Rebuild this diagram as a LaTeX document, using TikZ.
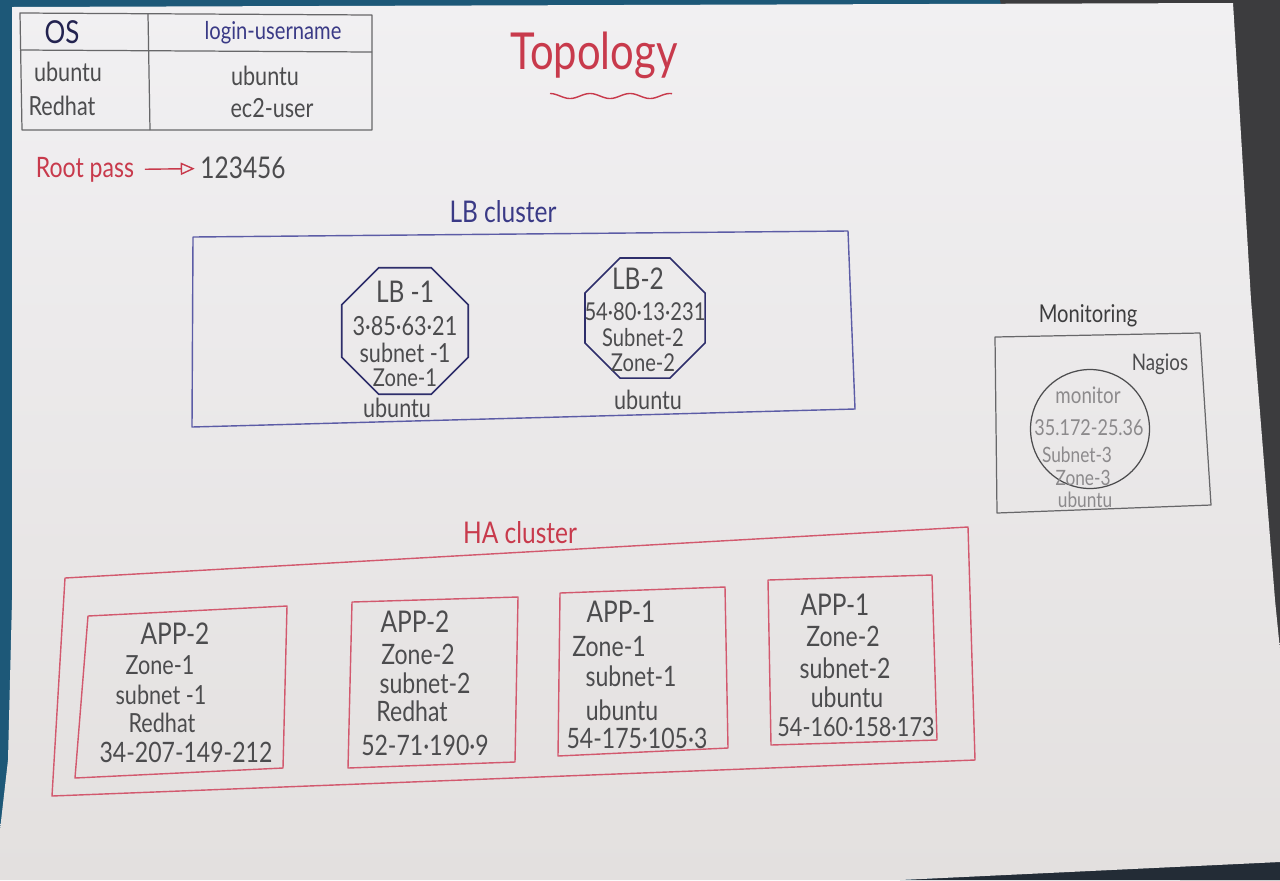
\documentclass[tikz,border=0pt]{standalone}
\usepackage{fontspec}
\setmainfont{Lato}[FakeStretch=0.82]
\usetikzlibrary{shapes.geometric,arrows.meta}

% inks and surfaces
\definecolor{deskblue}{HTML}{1D5878}
\definecolor{deskgray}{HTML}{3C3C3E}
\definecolor{desknavy}{HTML}{232C36}
\definecolor{papertop}{HTML}{F1F0F2}
\definecolor{paperbot}{HTML}{E3E0DF}
\definecolor{inkred}{HTML}{C83A4C}
\definecolor{boxred}{HTML}{D2596E}
\definecolor{inkblue}{HTML}{3A3A86}
\definecolor{lbline}{HTML}{5C5CA6}
\definecolor{pencil}{HTML}{4C4C4E}
\definecolor{lightpencil}{HTML}{8C8A8C}

\newcommand\fsz[1]{\fontsize{#1}{#1}\selectfont}

\begin{document}
\begin{tikzpicture}[x=0.02cm,y=-0.02cm,
  txt/.style={inner sep=0pt,anchor=center},
  pentxt/.style={txt,text=pencil,font=\fsz{14}},
  smalltxt/.style={txt,text=pencil,font=\fsz{12}},
  monitortxt/.style={txt,text=lightpencil,font=\fsz{11}},
  redtxt/.style={txt,text=inkred},
  bluetxt/.style={txt,text=inkblue},
  pencilline/.style={draw=pencil!85,line width=0.7pt,line join=round},
  lbline/.style={draw=lbline,line width=0.8pt,line join=round},
  redline/.style={draw=boxred,line width=0.8pt,line join=round},
  octa/.style={regular polygon,regular polygon sides=8,inner sep=0pt,
               draw=inkblue!80!black,line width=0.9pt}]

\useasboundingbox (0,0) rectangle (1280,880);

% desk around the sheet
\fill[deskblue] (0,0) rectangle (1280,880);
\fill[deskgray] (1000,0) -- (1280,0) -- (1280,880) -- (1180,880) -- cycle;
\fill[desknavy] (900,880) -- (1280,860) -- (1280,880) -- cycle;

% sheet of paper
\shade[top color=papertop,bottom color=paperbot]
  (12,7) -- (1233,3) -- (1251,300) -- (1275,600) -- (1280,650)
  -- (1280,862) -- (900,880) -- (0,880) -- (0,830) -- (8,760)
  -- (12,600) -- cycle;

% login table
\draw[pencilline] (20,13) -- (372,15) -- (372,130) -- (22,130) -- cycle;
\draw[pencilline] (20,50) -- (372,52);
\draw[pencilline] (148,14) -- (150,130);
\node[bluetxt,text=inkblue!60!black,font=\fsz{18}] (osh) at (62,32) {OS};
\node[bluetxt,font=\fsz{14}] (loginh) at (273,33) {login-username};
\node[pentxt,font=\fsz{15}] (os1) at (68,72) {ubuntu};
\node[pentxt,font=\fsz{15}] (user1) at (265,76) {ubuntu};
\node[pentxt,font=\fsz{15}] (os2) at (62,106) {Redhat};
\node[pentxt,font=\fsz{15}] (user2) at (272,108) {ec2-user};

% root password
\node[redtxt,font=\fsz{16}] (root) at (85,170) {Root pass};
\node[pentxt,font=\fsz{17}] (pw) at (243,168) {123456};
\draw[inkred,line width=0.8pt,shorten <=6pt,shorten >=3pt,
      -{Triangle[open,length=8pt,width=7pt]}] (root) -- (pw);

% title
\node[redtxt,font=\fsz{29}] (title) at (594,55) {Topology};
\draw[inkred,line width=0.8pt]
  plot[domain=550:672,samples=80,smooth] (\x,{96+2.5*sin(9*\x)});

% load balancer cluster
\node[bluetxt,font=\fsz{17}] (lbtitle) at (503,212) {LB cluster};
\draw[lbline] (193,237) -- (848,231) -- (855,409) -- (192,427) -- cycle;

\node[octa,minimum size=2.74cm] (lb1) at (405,331) {};
\node[pentxt] (lb1name) at (405,292) {\fsz{17}LB -1};
\node[pentxt,font=\fsz{15}] (lb1ip) at (405,326) {3·85·63·21};
\node[pentxt,font=\fsz{15}] (lb1net) at (405,353) {subnet -1};
\node[pentxt,font=\fsz{14}] (lb1zone) at (405,378) {Zone-1};
\node[pentxt,font=\fsz{15}] (lb1os) at (397,408) {ubuntu};

\node[octa,minimum size=2.6cm] (lb2) at (645,318) {};
\node[pentxt] (lb2name) at (638,279) {\fsz{17}LB-2};
\node[pentxt,font=\fsz{14}] (lb2ip) at (645,312) {54·80·13·231};
\node[pentxt,font=\fsz{14}] (lb2net) at (643,338) {Subnet-2};
\node[pentxt,font=\fsz{14}] (lb2zone) at (643,363) {Zone-2};
\node[pentxt,font=\fsz{15}] (lb2os) at (648,400) {ubuntu};

% monitoring
\node[smalltxt,text=pencil!80!black,font=\fsz{14}] (montitle) at (1088,316) {Monitoring};
\draw[pencilline] (995,337) -- (1200,333) -- (1211,505) -- (997,513) -- cycle;
\node[smalltxt,font=\fsz{13}] (nagios) at (1160,364) {Nagios};
\node[circle,draw=pencil,line width=0.7pt,minimum size=2.38cm,inner sep=0pt] (mon) at (1090,429) {};
\node[monitortxt,font=\fsz{13}] (monname) at (1088,395) {monitor};
\node[monitortxt,font=\fsz{12.5}] (monip) at (1089,428) {35.172-25.36};
\node[monitortxt,font=\fsz{12}] (monnet) at (1077,455) {Subnet-3};
\node[monitortxt,font=\fsz{12}] (monzone) at (1083,478) {Zone-3};
\node[monitortxt,font=\fsz{12}] (monos) at (1085,500) {ubuntu};

% high availability cluster
\node[redtxt,font=\fsz{17}] (hatitle) at (520,533) {HA cluster};
\draw[redline] (65,578) -- (968,527) -- (975,760) -- (52,796) -- cycle;

% application servers
\draw[redline] (88,616) -- (287,606) -- (283,768) -- (75,778) -- cycle;
\node[pentxt,font=\fsz{17}] (a1name) at (175,634) {APP-2};
\node[pentxt,font=\fsz{15}] (a1zone) at (160,665) {Zone-1};
\node[pentxt,font=\fsz{15}] (a1net) at (161,695) {subnet -1};
\node[pentxt,font=\fsz{15}] (a1os) at (162,723) {Redhat};
\node[pentxt,font=\fsz{16}] (a1ip) at (186,752) {34-207-149-212};

\draw[redline] (352,602) -- (518,597) -- (515,762) -- (348,768) -- cycle;
\node[pentxt,font=\fsz{17}] (a2name) at (415,622) {APP-2};
\node[pentxt,font=\fsz{16}] (a2zone) at (418,654) {Zone-2};
\node[pentxt,font=\fsz{16}] (a2net) at (425,683) {subnet-2};
\node[pentxt,font=\fsz{16}] (a2os) at (412,711) {Redhat};
\node[pentxt,font=\fsz{16}] (a2ip) at (425,745) {52-71·190·9};

\draw[redline] (560,593) -- (725,587) -- (728,748) -- (558,756) -- cycle;
\node[pentxt,font=\fsz{17}] (a3name) at (621,612) {APP-1};
\node[pentxt,font=\fsz{16}] (a3zone) at (609,646) {Zone-1};
\node[pentxt,font=\fsz{16}] (a3net) at (631,676) {subnet-1};
\node[pentxt,font=\fsz{16}] (a3os) at (622,710) {ubuntu};
\node[pentxt,font=\fsz{16}] (a3ip) at (637,738) {54-175·105·3};

\draw[redline] (768,580) -- (932,575) -- (937,740) -- (771,745) -- cycle;
\node[pentxt,font=\fsz{17}] (a4name) at (835,605) {APP-1};
\node[pentxt,font=\fsz{16}] (a4zone) at (843,636) {Zone-2};
\node[pentxt,font=\fsz{16}] (a4net) at (845,668) {subnet-2};
\node[pentxt,font=\fsz{16}] (a4os) at (847,697) {ubuntu};
\node[pentxt,font=\fsz{15}] (a4ip) at (856,727) {54-160·158·173};

\end{tikzpicture}
\end{document}
